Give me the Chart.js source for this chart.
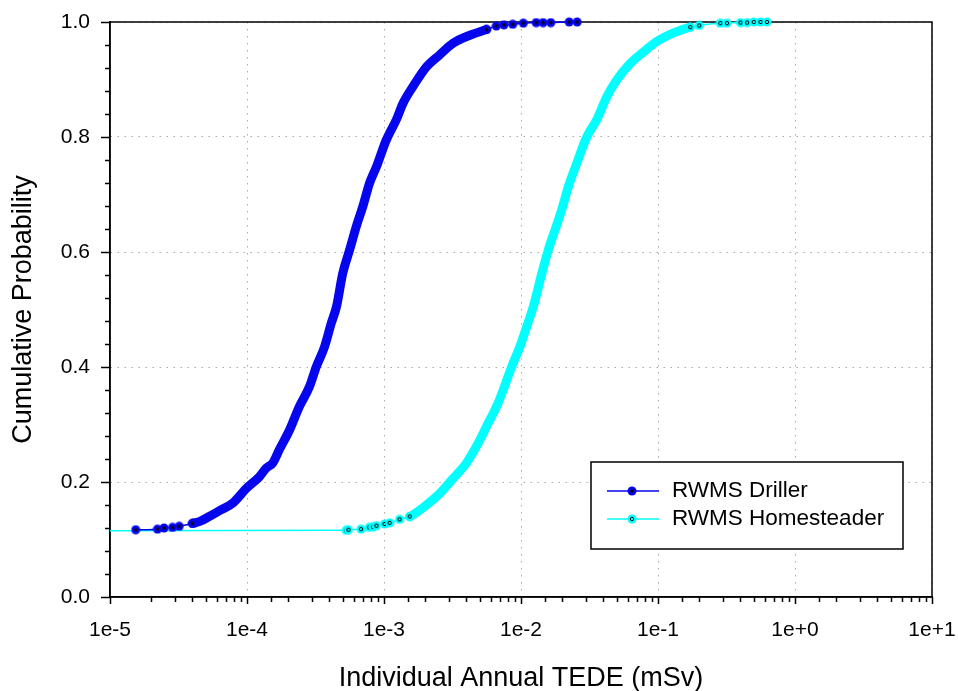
<!DOCTYPE html>
<html>
<head>
<meta charset="utf-8">
<title>RWMS cumulative probability</title>
<script src="https://cdn.jsdelivr.net/npm/chart.js@4.4.1/dist/chart.umd.min.js"></script>
<style>
  html, body { margin: 0; padding: 0; background: #fff; }
  #wrap { width: 958px; height: 691px; }
</style>
</head>
<body>
<div id="wrap"><canvas id="cdfChart" width="958" height="691"></canvas></div>
<script>
// values
const seriesNames = ['RWMS Driller', 'RWMS Homesteader'];
const xTickLabels = ['1e-5', '1e-4', '1e-3', '1e-2', '1e-1', '1e+0', '1e+1'];
const yTickLabels = ['0.0', '0.2', '0.4', '0.6', '0.8', '1.0'];

const drillerDose = [1.54e-5, 2.22e-5, 2.48e-5, 2.86e-5, 3.2e-5, 4.0e-5, 4.48e-5, 5.3e-5, 6.4e-5, 7.85e-5,
  1.0e-4, 1.23e-4, 1.38e-4, 1.54e-4, 1.72e-4, 2.04e-4, 2.41e-4, 2.86e-4, 3.2e-4, 3.68e-4,
  4.12e-4, 4.5e-4, 5.0e-4, 5.6e-4, 6.27e-4, 7.0e-4, 7.85e-4, 8.8e-4, 1.04e-3, 1.23e-3,
  1.38e-3, 1.63e-3, 2.04e-3, 2.55e-3, 3.19e-3, 4.23e-3, 5.6e-3, 6.6e-3, 7.5e-3, 8.7e-3,
  1.04e-2, 1.29e-2, 1.45e-2, 1.65e-2, 2.25e-2, 2.57e-2];
const drillerProb = [0.117, 0.118, 0.120, 0.121, 0.123, 0.128, 0.131, 0.140, 0.151, 0.163,
  0.190, 0.209, 0.224, 0.233, 0.256, 0.290, 0.331, 0.366, 0.400, 0.435,
  0.476, 0.505, 0.563, 0.603, 0.644, 0.679, 0.720, 0.748, 0.795, 0.830,
  0.859, 0.888, 0.922, 0.943, 0.963, 0.977, 0.987, 0.993, 0.995, 0.996,
  0.998, 0.999, 0.999, 0.999, 1.0, 1.0];

// first value sits left of the axis (line enters from the edge)
const homesteaderDose = [1e-6, 5.3e-4, 5.5e-4, 6.8e-4, 7.8e-4, 8.3e-4, 8.8e-4, 1.01e-3, 1.1e-3, 1.3e-3,
  1.54e-3, 1.63e-3, 2.04e-3, 2.55e-3, 3.19e-3, 4.0e-3, 4.86e-3, 5.75e-3, 6.63e-3, 7.42e-3,
  8.53e-3, 9.8e-3, 1.1e-2, 1.23e-2, 1.42e-2, 1.58e-2, 1.77e-2, 1.98e-2, 2.22e-2, 2.55e-2,
  3.02e-2, 3.57e-2, 4.23e-2, 5.0e-2, 6.27e-2, 7.84e-2, 9.8e-2, 1.3e-1, 1.72e-1, 2.0e-1,
  2.85e-1, 3.19e-1, 4.0e-1, 4.47e-1, 5.0e-1, 5.6e-1, 6.25e-1];
const homesteaderProb = [0.115, 0.116, 0.117, 0.118, 0.121, 0.122, 0.124, 0.127, 0.129, 0.135,
  0.140, 0.143, 0.160, 0.180, 0.206, 0.233, 0.267, 0.302, 0.331, 0.360,
  0.400, 0.435, 0.470, 0.505, 0.563, 0.603, 0.638, 0.673, 0.714, 0.754,
  0.800, 0.830, 0.870, 0.899, 0.928, 0.948, 0.966, 0.981, 0.991, 0.994,
  0.998, 0.998, 0.999, 0.999, 1.0, 1.0, 1.0];

const FONT = '"Liberation Sans", Arial, sans-serif';
const BLUE = '#0505ee';
const CYAN = '#00ffff';
const GRID = '#a8a8a8';

// where the samples are so dense the markers merge into a thick band
const drillerBand = [0.13, 0.985];
const homesteaderBand = [0.142, 0.99];
const inBand = (y, band) => y >= band[0] && y <= band[1];

function makeMarker(fill, ring) {
  const c = document.createElement('canvas');
  c.width = 10; c.height = 10;
  const g = c.getContext('2d');
  g.fillStyle = fill;
  g.beginPath(); g.arc(5, 5, 4.5, 0, Math.PI * 2); g.fill();
  g.beginPath(); g.arc(5, 5, 1.7, 0, Math.PI * 2);
  if (ring) { g.strokeStyle = '#000'; g.lineWidth = 1; g.stroke(); }
  else { g.fillStyle = '#000'; g.fill(); }
  return c;
}
const blueMarker = makeMarker(BLUE, false);
const cyanMarker = makeMarker(CYAN, true);

function isDecade(v) {
  const e = Math.log10(v);
  return Math.abs(e - Math.round(e)) < 1e-6;
}

function makeSeries(label, dose, prob, color, marker, band) {
  return {
    label: label,
    data: dose.map((x, i) => ({ x: x, y: prob[i] })),
    borderColor: color,
    backgroundColor: color,
    borderWidth: 1.5,
    borderCapStyle: 'round',
    borderJoinStyle: 'round',
    cubicInterpolationMode: 'monotone',
    pointStyle: marker,
    marker: marker,
    pointRadius: ctx => (ctx.parsed && inBand(ctx.parsed.y, band)) ? 0 : 4,
    pointHoverRadius: 4,
    segment: {
      borderWidth: ctx => (inBand(ctx.p0.parsed.y, band) || inBand(ctx.p1.parsed.y, band)) ? 9 : 1.5
    },
    clip: { left: 0, top: 8, right: 8, bottom: 8 }
  };
}

// plot frame, tick marks and the boxed legend
const decorations = {
  id: 'decorations',
  beforeDatasetsDraw(chart) {
    const { ctx, chartArea: a } = chart;
    const xs = chart.scales.x, ys = chart.scales.y;
    ctx.save();
    ctx.strokeStyle = '#000';
    ctx.lineWidth = 1.5;
    ctx.strokeRect(a.left, a.top, a.right - a.left, a.bottom - a.top);
    ctx.beginPath();
    xs.ticks.forEach(t => {
      const px = Math.round(xs.getPixelForValue(t.value)) + 0.5;
      const len = isDecade(t.value) ? 7 : 5;
      ctx.moveTo(px, a.bottom);
      ctx.lineTo(px, a.bottom + len);
    });
    for (let i = 0; i <= 25; i++) {
      const py = Math.round(ys.getPixelForValue(i / 25)) + 0.5;
      const len = i % 5 === 0 ? 9 : 5;
      ctx.moveTo(a.left - len, py);
      ctx.lineTo(a.left, py);
    }
    ctx.stroke();
    ctx.restore();
  },
  afterDatasetsDraw(chart) {
    const { ctx, chartArea: a } = chart;
    const w = 312, h = 87;
    const x0 = a.right - 29 - w, y0 = a.bottom - 48 - h;
    ctx.save();
    ctx.fillStyle = '#fff';
    ctx.fillRect(x0, y0, w, h);
    ctx.strokeStyle = '#000';
    ctx.lineWidth = 1.5;
    ctx.strokeRect(x0, y0, w, h);
    chart.data.datasets.forEach((ds, i) => {
      const y = Math.round(y0 + 29 + i * 27.6);
      ctx.strokeStyle = ds.borderColor;
      ctx.lineWidth = 1.5;
      ctx.beginPath();
      ctx.moveTo(x0 + 16, y);
      ctx.lineTo(x0 + 68, y);
      ctx.stroke();
      ctx.drawImage(ds.marker, x0 + 41 - 5, y - 5);
      ctx.fillStyle = '#000';
      ctx.font = '22.5px ' + FONT;
      ctx.textAlign = 'left';
      ctx.textBaseline = 'middle';
      ctx.fillText(ds.label, x0 + 81, y);
    });
    ctx.restore();
  }
};

new Chart(document.getElementById('cdfChart'), {
  type: 'line',
  data: {
    datasets: [
      makeSeries(seriesNames[0], drillerDose, drillerProb, BLUE, blueMarker, drillerBand),
      makeSeries(seriesNames[1], homesteaderDose, homesteaderProb, CYAN, cyanMarker, homesteaderBand)
    ]
  },
  options: {
    responsive: false,
    devicePixelRatio: 1,
    animation: false,
    layout: { padding: { top: 22, right: 26, bottom: 0, left: 0 } },
    plugins: {
      legend: { display: false },
      tooltip: { enabled: false }
    },
    scales: {
      x: {
        type: 'logarithmic',
        min: 1e-5,
        max: 10,
        afterFit: s => { s.height = 94; s.paddingLeft = 0; s.paddingRight = 0; },
        ticks: {
          autoSkip: false,
          maxRotation: 0,
          minRotation: 0,
          padding: 21,
          color: '#000',
          font: { family: FONT, size: 21 },
          callback: v => isDecade(v) ? xTickLabels[Math.round(Math.log10(v)) + 5] : ''
        },
        grid: {
          drawTicks: false,
          lineWidth: 1,
          color: ctx => (ctx.tick && isDecade(ctx.tick.value)) ? GRID : 'rgba(0,0,0,0)'
        },
        border: { display: true, color: '#000', width: 1.5, dash: [1.5, 5.5] },
        title: {
          display: true,
          text: 'Individual Annual TEDE (mSv)',
          color: '#000',
          font: { family: FONT, size: 27, lineHeight: 1 },
          padding: { top: 0, bottom: -1 }
        }
      },
      y: {
        type: 'linear',
        min: 0,
        max: 1,
        afterFit: s => { s.width = 110; s.paddingTop = 0; s.paddingBottom = 0; },
        ticks: {
          stepSize: 0.2,
          padding: 20,
          color: '#000',
          font: { family: FONT, size: 21 },
          callback: (v, i) => yTickLabels[i]
        },
        grid: {
          drawTicks: false,
          lineWidth: 1,
          color: GRID
        },
        border: { display: true, color: '#000', width: 1.5, dash: [1.5, 5.5] },
        title: {
          display: true,
          text: 'Cumulative Probability',
          color: '#000',
          font: { family: FONT, size: 27, lineHeight: 1 },
          padding: { top: 10, bottom: 0 }
        }
      }
    }
  },
  plugins: [decorations]
});
</script>
</body>
</html>
